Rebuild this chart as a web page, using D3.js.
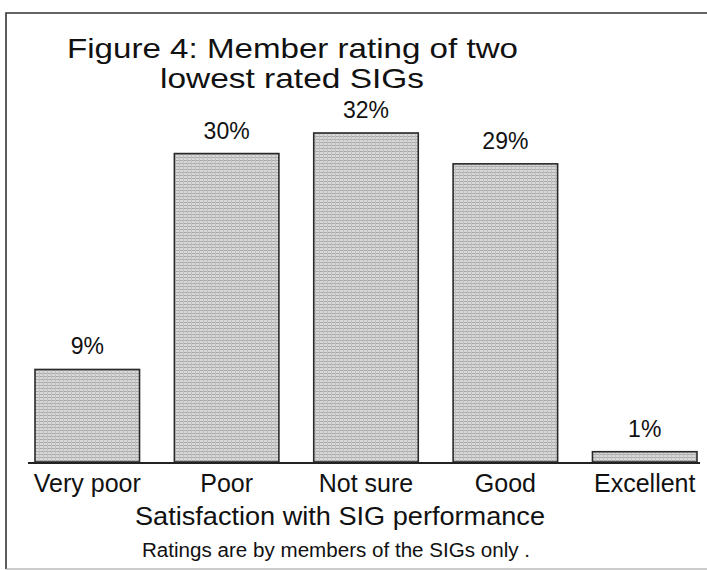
<!DOCTYPE html>
<html>
<head>
<meta charset="utf-8">
<script src="https://cdn.jsdelivr.net/npm/d3@7"></script>
<style>
  body { margin: 0; background: #fff; }
  svg { display: block; font-family: "Liberation Sans", Arial, sans-serif; }
</style>
</head>
<body>
<div id="chart"></div>
<script>
const categories = ["Very poor", "Poor", "Not sure", "Good", "Excellent"];
const values = [9, 30, 32, 29, 1];
const valueLabels = ["9%", "30%", "32%", "29%", "1%"];
const titleLines = ["Figure 4: Member rating of two", "lowest rated SIGs"];
const xTitle = "Satisfaction with SIG performance";
const note = "Ratings are by members of the SIGs only .";

function drawChart(selector) {
  const width = 707, height = 570;
  const baseline = 462;

  const svg = d3.select(selector).append("svg")
    .attr("width", width)
    .attr("height", height);

  // stippled grey fill like the scanned print
  const pat = svg.append("defs").append("pattern")
    .attr("id", "stipple")
    .attr("width", 4).attr("height", 3)
    .attr("patternUnits", "userSpaceOnUse");
  pat.append("rect").attr("width", 4).attr("height", 3).attr("fill", "#d8d8d8");
  pat.append("rect").attr("y", 1).attr("width", 4).attr("height", 1).attr("fill", "#ababab");
  pat.append("rect").attr("x", 3).attr("width", 1).attr("height", 3).attr("fill", "#c0c0c0");

  // page frame: left and top edges strong, bottom faint
  svg.append("path")
    .attr("d", "M6,569V13H707")
    .attr("fill", "none")
    .attr("stroke", "#333")
    .attr("stroke-width", 1.6);
  svg.append("line")
    .attr("x1", 6).attr("x2", 707)
    .attr("y1", 569).attr("y2", 569)
    .attr("stroke", "#999")
    .attr("stroke-width", 1);

  const x = d3.scaleBand().domain(categories).range([35, 697])
    .paddingInner(0.25).paddingOuter(0);
  const y = d3.scaleLinear().domain([0, 32]).range([baseline, 133]);

  svg.selectAll(".bar")
    .data(values)
    .enter().append("rect")
    .attr("class", "bar")
    .attr("x", (d, i) => x(categories[i]))
    .attr("y", d => y(d))
    .attr("width", x.bandwidth())
    .attr("height", d => baseline - y(d))
    .attr("fill", "url(#stipple)")
    .attr("stroke", "#2a2a2a")
    .attr("stroke-width", 1.6);

  svg.selectAll(".label")
    .data(values)
    .enter().append("text")
    .attr("class", "label")
    .attr("x", (d, i) => x(categories[i]) + x.bandwidth() / 2)
    .attr("y", d => y(d) - 15)
    .attr("text-anchor", "middle")
    .style("font-size", "23px")
    .style("fill", "#111")
    .text((d, i) => valueLabels[i]);

  // x axis: only the base line and the category names
  const xAxis = d3.axisBottom(x).tickSize(0).tickPadding(12);
  const gx = svg.append("g")
    .attr("transform", "translate(0," + baseline + ")")
    .call(xAxis);
  gx.select(".domain").remove();
  gx.selectAll("text")
    .style("font-size", "25px")
    .style("font-family", "'Liberation Sans', Arial, sans-serif")
    .style("fill", "#111")
    .attr("dy", "0.7em");

  svg.append("line")
    .attr("x1", 28).attr("x2", 700)
    .attr("y1", baseline + 1).attr("y2", baseline + 1)
    .attr("stroke", "#222")
    .attr("stroke-width", 2);

  svg.append("text")
    .attr("x", 67).attr("y", 58)
    .attr("textLength", 451).attr("lengthAdjust", "spacingAndGlyphs")
    .style("font-size", "28px").style("fill", "#111")
    .text(titleLines[0]);
  svg.append("text")
    .attr("x", 160).attr("y", 88)
    .attr("textLength", 264).attr("lengthAdjust", "spacingAndGlyphs")
    .style("font-size", "28px").style("fill", "#111")
    .text(titleLines[1]);

  svg.append("text")
    .attr("x", 135).attr("y", 525)
    .attr("textLength", 410).attr("lengthAdjust", "spacingAndGlyphs")
    .style("font-size", "25px").style("fill", "#111")
    .text(xTitle);

  svg.append("text")
    .attr("x", 142).attr("y", 557)
    .attr("textLength", 388).attr("lengthAdjust", "spacingAndGlyphs")
    .style("font-size", "20px").style("fill", "#111")
    .text(note);
}

window.onload = () => {
  drawChart("#chart");
};
</script>
</body>
</html>
